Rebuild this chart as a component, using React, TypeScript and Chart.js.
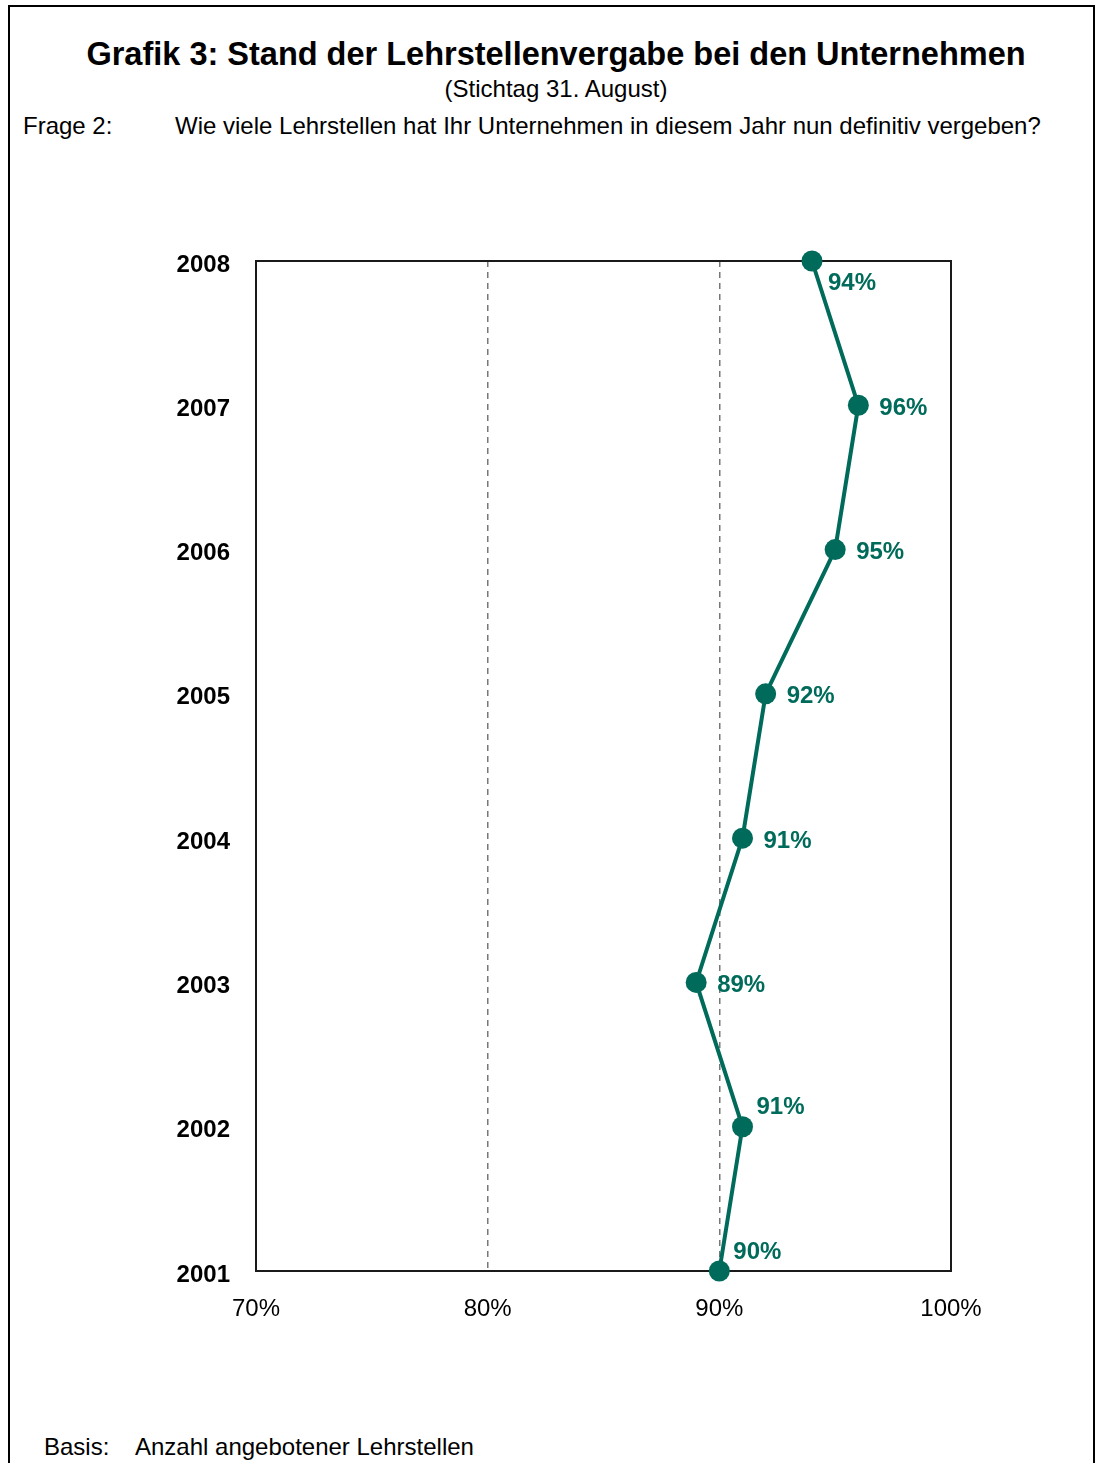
import React, { useEffect, useRef } from "react";
import { Chart, registerables } from "chart.js";

Chart.register(...registerables);

const years = [2008, 2007, 2006, 2005, 2004, 2003, 2002, 2001];
const shares = [94, 96, 95, 92, 91, 89, 91, 90];
const labelPlacement = ["below", "right", "right", "right", "right", "right", "above", "above"];
const xTicks = [70, 80, 90, 100];

const TEAL = "#006b5a";
const FONT = "'Liberation Sans', Arial, sans-serif";

const labelPlugin = {
  id: "pointLabels",
  afterDatasetsDraw(chart: any) {
    const ctx = chart.ctx;
    const meta = chart.getDatasetMeta(0);
    ctx.save();
    ctx.font = `bold 24px ${FONT}`;
    ctx.fillStyle = TEAL;
    ctx.textAlign = "left";
    ctx.textBaseline = "middle";
    meta.data.forEach((pt: any, i: number) => {
      const p = labelPlacement[i];
      let dx = 21, dy = 3;
      if (p === "below") { dx = 16; dy = 22; }
      if (p === "above") { dx = 14; dy = -19; }
      ctx.fillText(`${shares[i]}%`, pt.x + dx, pt.y + dy);
    });
    ctx.restore();
  },
};

const framePlugin = {
  id: "frame",
  beforeDatasetsDraw(chart: any) {
    const { ctx, chartArea } = chart;
    ctx.save();
    ctx.strokeStyle = "#1a1a1a";
    ctx.lineWidth = 2;
    ctx.strokeRect(chartArea.left, chartArea.top, chartArea.right - chartArea.left, chartArea.bottom - chartArea.top);
    ctx.restore();
  },
};

function ChartCanvas() {
  const ref = useRef<HTMLCanvasElement | null>(null);
  useEffect(() => {
    if (!ref.current) return;
    const chart = new Chart(ref.current, {
      type: "line",
      data: {
        datasets: [
          {
            data: years.map((y, i) => ({ x: shares[i], y })),
            borderColor: TEAL,
            backgroundColor: TEAL,
            borderWidth: 4,
            pointRadius: 10.5,
            pointHoverRadius: 10.5,
            pointBackgroundColor: TEAL,
            pointBorderColor: TEAL,
            pointBorderWidth: 0,
            tension: 0,
            clip: false as any,
          },
        ],
      },
      options: {
        animation: false,
        responsive: false,
        maintainAspectRatio: false,
        layout: { padding: { left: 0, right: 146, top: 61, bottom: 0 } },
        plugins: { legend: { display: false }, tooltip: { enabled: false } },
        scales: {
          x: {
            type: "linear",
            min: 70,
            max: 100,
            afterBuildTicks: (scale: any) => {
              scale.ticks = xTicks.map((v) => ({ value: v }));
            },
            afterFit: (scale: any) => {
              scale.height = 79;
            },
            ticks: {
              padding: 24,
              color: "#000",
              font: { family: FONT, size: 24 },
              callback: (v: any) => `${v}%`,
            },
            grid: {
              drawTicks: false,
              color: (c: any) => (c.tick && (c.tick.value === 80 || c.tick.value === 90) ? "#777" : "rgba(0,0,0,0)"),
              lineWidth: 1.5,
            },
            border: { display: false, dash: [6, 5] },
          },
          y: {
            type: "linear",
            min: 2001,
            max: 2008,
            afterBuildTicks: (scale: any) => {
              scale.ticks = years.map((v) => ({ value: v }));
            },
            afterFit: (scale: any) => {
              scale.width = 256;
            },
            ticks: {
              padding: 26,
              labelOffset: 4,
              color: "#000",
              font: { family: FONT, size: 24, weight: "bold" },
              callback: (v: any) => String(v),
            },
            grid: { display: false, drawTicks: false },
            border: { display: false },
          },
        },
      },
      plugins: [framePlugin, labelPlugin],
    } as any);
    return () => chart.destroy();
  }, []);
  return <canvas ref={ref} width={1097} height={1150} style={{ position: "absolute", left: 0, top: 200, width: 1097, height: 1150 }} />;
}

export default function App() {
  const text = (s: string, left: number, top: number, size: number, extra: any = {}) => (
    <div style={{ position: "absolute", left, top, fontSize: size, lineHeight: `${size}px`, fontFamily: FONT, color: "#000", whiteSpace: "nowrap", ...extra }}>{s}</div>
  );
  return (
    <div style={{ position: "absolute", left: 0, top: 0, width: 1097, height: 1463, overflow: "hidden", background: "#fff" }}>
      <div style={{ position: "absolute", left: 8, top: 5, width: 1083, height: 1500, border: "2px solid #000" }} />
      <div style={{ position: "absolute", left: 0, top: 38, width: 1112, textAlign: "center", fontFamily: FONT, fontWeight: "bold", fontSize: 32.5, lineHeight: "32px" }}>
        Grafik 3: Stand der Lehrstellenvergabe bei den Unternehmen
      </div>
      <div style={{ position: "absolute", left: 0, top: 77, width: 1112, textAlign: "center", fontFamily: FONT, fontSize: 24, lineHeight: "24px" }}>
        (Stichtag 31. August)
      </div>
      {text("Frage 2:", 23, 114, 24)}
      {text("Wie viele Lehrstellen hat Ihr Unternehmen in diesem Jahr nun definitiv vergeben?", 175, 114, 24)}
      <ChartCanvas />
      {text("Basis:", 44, 1435, 24)}
      {text("Anzahl angebotener Lehrstellen", 135, 1435, 24)}
    </div>
  );
}
